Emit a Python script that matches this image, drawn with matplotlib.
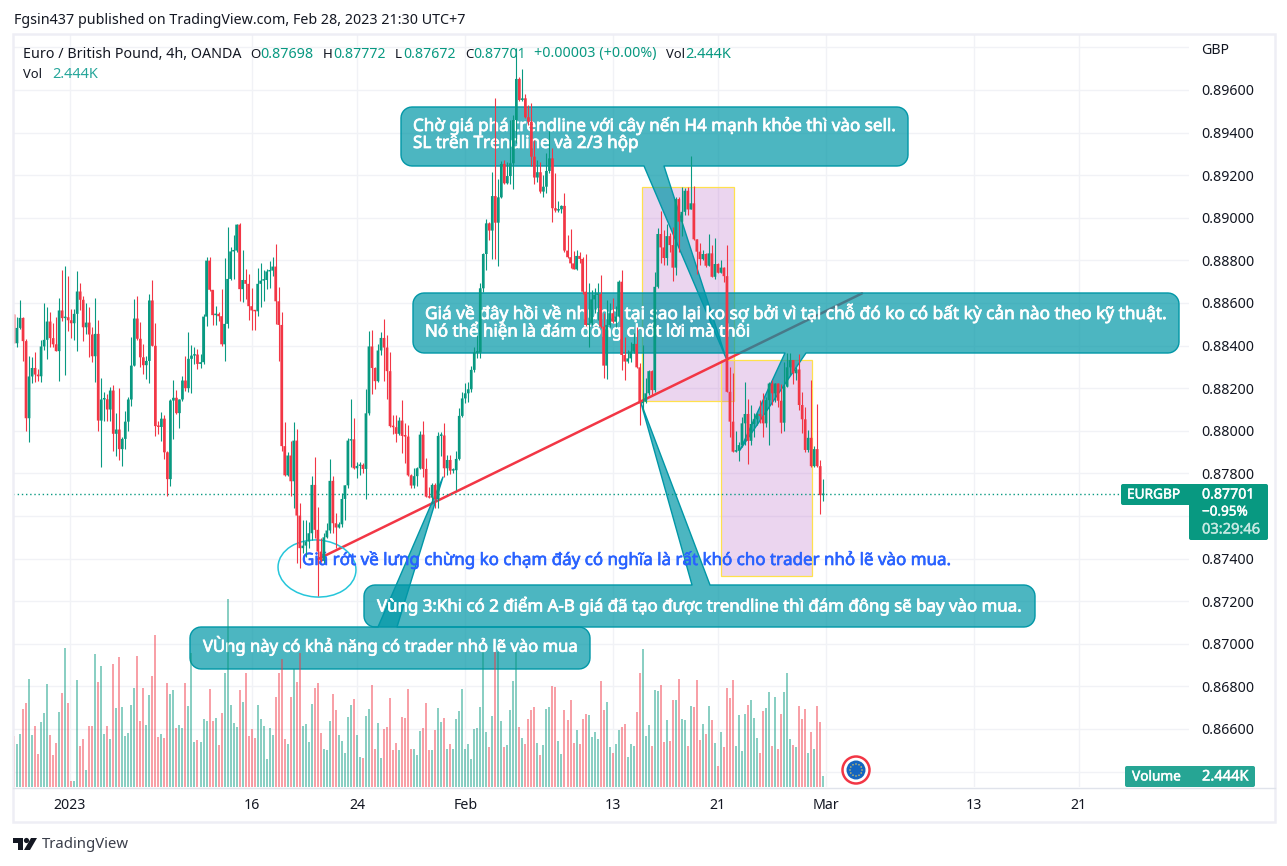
import numpy as np
import matplotlib
matplotlib.use("Agg")
import matplotlib.pyplot as plt
import matplotlib.patheffects as pe
from matplotlib.patches import Polygon, Rectangle, Ellipse, Circle, FancyBboxPatch

plt.rcParams['font.family'] = ['Noto Sans', 'DejaVu Sans']

W, H = 1287, 866
GREEN, RED = '#089981', '#f23645'
GRID = '#f1f2f6'
DARK = '#131722'

# ---------- data: prices in 1/100000 GBP, volume in thousands ----------
first_open = 88546
closes = [
 88411,88483,88530,88421,88059,88255,88295,88264,88256,88396,
 88427,88513,88435,88406,88374,88565,88529,88533,88519,88505,
 88549,88654,88615,88486,88508,88452,88350,88455,88048,88147,
 88148,88100,88189,87986,88006,87914,87962,88043,88147,88306,
 88527,88432,88345,88308,88328,88612,88399,88022,88018,88057,
 87899,87773,88142,88155,88083,88147,88236,88200,88338,88353,
 88358,88314,88322,88536,88799,88662,88543,88549,88538,88406,
 88502,88713,88842,88846,88968,88665,88708,88690,88585,88565,
 88561,88690,88705,88708,88748,88752,88771,88608,88497,87928,
 87791,87884,87763,87954,87602,87449,87461,87480,87519,87746,
 87535,87433,87391,87500,87532,87765,87566,87546,87561,87680,
 87744,87954,87960,87824,87835,87840,87821,88082,88396,88295,
 88233,88377,88436,88391,88280,88022,88017,87986,88048,87976,
 87973,87791,87743,87787,87824,87982,87821,87691,87686,87746,
 87679,87976,87978,87824,87863,87813,87815,87868,88070,88152,
 88176,88195,88286,88367,88368,88669,88830,88974,88940,89102,
 88977,89096,89253,89162,89196,89256,89459,89652,89553,89561,
 89472,89451,89287,89189,89214,89123,89146,89220,89279,89045,
 89034,89040,89056,88846,88815,88786,88758,88821,88807,88653,
 88497,88505,88617,88638,88642,88489,88306,88497,88552,88512,
 88536,88700,88356,88325,88340,88372,88408,88298,88129,88136,
 88176,88280,88191,88676,88924,88861,88811,88914,88872,88766,
 89088,88982,89028,89127,89039,89068,88899,88841,88806,88830,
 88775,88833,88723,88783,88742,88766,88726,88183,88043,87902,
 87906,87933,88035,88079,87953,88032,88054,88079,88069,88035,
 88144,88222,88176,88222,88141,88038,88207,88298,88332,88270,
 88288,88121,88054,87910,87967,87834,87914,87834,87698,87701]
highs = [
 88549,88533,88612,88536,88432,88349,88345,88372,88291,88424,
 88602,88580,88560,88505,88533,88624,88757,88776,88729,88572,
 88572,88748,88694,88635,88599,88583,88486,88624,88518,88248,
 88180,88173,88205,88217,88084,88200,87973,88095,88158,88442,
 88619,88635,88513,88408,88353,88643,88709,88508,88048,88090,
 88072,87904,88147,88240,88192,88147,88259,88349,88466,88405,
 88392,88385,88361,88546,88815,88818,88662,88588,88560,88668,
 88810,88959,88865,88921,88971,88975,88849,88760,88734,88671,
 88568,88763,88790,88755,88760,88799,88815,88877,88677,88557,
 88043,87900,87954,88040,88007,87660,87582,87582,87574,87788,
 87876,87644,87495,87519,87566,87866,87788,87613,87574,87707,
 87746,87965,88150,88059,87855,87855,87848,88197,88468,88471,
 88298,88408,88466,88525,88450,88369,88076,88076,88064,88145,
 88036,88025,87798,87824,87829,87998,88048,87873,87738,87754,
 87754,87996,87996,88035,87887,87887,87824,87907,88106,88184,
 88223,88231,88304,88395,88450,88692,88836,88993,88982,89214,
 89561,89181,89268,89272,89264,89459,89483,89797,89663,89699,
 89581,89530,89538,89365,89272,89264,89201,89303,89409,89326,
 89209,89081,89060,89115,88919,88946,88846,88849,88841,88818,
 88830,88692,88661,88669,88692,88732,88552,88614,88598,88622,
 88586,88708,88755,88442,88379,88419,88458,88489,88317,88403,
 88246,88285,88286,88747,88950,89032,88942,88971,88927,88958,
 89099,89096,89146,89138,89143,89290,89151,88899,88880,88849,
 88833,88924,88872,88903,88786,88802,88770,88872,88298,88270,
 88000,87949,88063,88230,88147,88121,88085,88085,88144,88176,
 88160,88230,88238,88226,88226,88222,88324,88363,88363,88332,
 88301,88360,88183,88113,88003,88238,87928,88126,87863,87772]
lows = [
 88411,88392,88478,88330,88001,87946,88223,88231,88236,88228,
 88377,88336,88392,88392,88374,88233,88514,88264,88468,88435,
 88424,88374,88565,88421,88455,88345,88325,88228,88001,87829,
 88048,88045,88048,87907,87884,87865,87837,87915,88001,88115,
 88302,88424,88299,88267,88241,88223,88396,87975,87986,87954,
 87867,87694,87743,87962,88079,88015,88142,88189,88184,88176,
 88314,88289,88294,88314,88494,88658,88499,88497,88514,88400,
 88327,88483,88710,88713,88838,88611,88604,88618,88518,88471,
 88471,88540,88583,88611,88666,88669,88729,88502,88330,87904,
 87790,87790,87693,87636,87378,87355,87425,87409,87449,87488,
 87495,87225,87386,87378,87495,87519,87519,87449,87542,87550,
 87582,87730,87832,87820,87777,87793,87801,87679,88072,88173,
 88197,88228,88358,88236,88150,88017,87986,87946,87982,87898,
 87851,87788,87732,87732,87743,87820,87782,87688,87683,87660,
 87636,87636,87880,87785,87793,87798,87801,87722,87863,88066,
 88129,88137,88184,88278,88340,88340,88653,88755,88896,88807,
 88807,88775,89091,89159,89159,89159,89134,89350,89550,89550,
 89467,89436,89243,89159,89170,89115,89099,89118,89209,88982,
 89029,89029,89024,88841,88810,88763,88758,88755,88786,88640,
 88492,88392,88497,88552,88520,88481,88246,88242,88489,88505,
 88489,88533,88286,88239,88317,88325,88364,88293,88027,88090,
 88129,88168,88168,88183,88669,88786,88778,88778,88841,88705,
 88731,88841,88914,89013,89013,89039,88895,88736,88778,88802,
 88770,88775,88720,88711,88739,88739,88700,88180,87972,87899,
 87900,87859,87925,87933,87844,87933,87972,88027,88035,87972,
 88019,87933,88121,88136,88113,87988,88000,88207,88262,88222,
 88238,88097,87988,87902,87902,87831,87831,87830,87609,87672]
volumes = [
 11.6,9.8,12.1,17.8,19.2,24.7,11.8,13.9,7.5,14.8,
 16.9,23.5,11.8,7.3,10.0,17.1,21.5,31.8,19.2,1.3,
 1.3,24.4,9.3,10.9,3.8,13.9,13.9,30.4,24.0,27.7,
 12.1,13.9,10.9,28.1,18.0,29.7,18.3,11.6,12.3,18.7,
 22.6,29.9,15.1,22.6,14.1,21.0,25.4,34.8,11.4,12.1,
 11.2,23.8,21.2,22.2,13.4,14.1,13.4,23.8,18.5,30.6,
 10.2,10.7,10.2,15.5,15.1,22.4,15.1,15.7,9.6,16.9,
 26.0,43.0,18.7,14.6,13.7,22.2,19.4,26.1,11.6,13.2,
 11.2,18.7,15.5,13.9,6.3,13.4,11.8,20.6,26.1,29.3,
 10.9,9.8,20.6,27.1,24.0,30.6,13.9,14.4,10.2,18.9,
 22.6,23.8,12.3,8.6,8.4,15.1,21.2,17.6,11.8,10.5,
 7.9,16.0,18.7,20.1,11.8,6.8,6.6,16.2,17.8,23.3,
 8.6,14.6,6.6,13.2,13.7,20.3,8.4,10.0,8.4,16.0,
 15.7,22.4,8.6,8.6,7.3,12.8,13.4,19.2,8.4,8.4,
 13.0,18.0,14.8,15.7,8.6,9.8,8.6,15.5,17.3,22.4,
 8.6,9.8,6.3,13.2,13.4,18.3,30.9,12.5,9.1,16.2,
 30.9,30.9,15.1,9.1,9.6,17.6,24.2,30.9,13.7,11.2,
 9.8,15.5,17.6,18.3,10.0,7.3,9.6,17.8,18.3,23.1,
 22.8,10.5,7.5,17.6,15.3,19.9,10.0,13.0,9.8,15.5,
 16.7,16.4,11.4,12.5,10.9,24.2,17.6,19.4,9.1,7.9,
 9.8,13.0,13.7,14.4,6.8,9.8,9.3,17.1,26.1,31.6,
 11.6,14.1,9.3,22.2,21.9,23.3,10.2,15.3,10.5,19.9,
 19.9,24.7,15.5,15.3,9.3,18.5,18.3,24.4,10.7,14.5,
 12.1,18.5,15.3,10.0,4.7,12.5,9.1,22.6,20.3,24.4,
 9.3,16.4,8.2,16.7,18.7,19.9,15.7,11.2,7.9,17.3,
 18.0,21.7,9.3,20.6,8.6,16.7,21.7,26.1,10.9,9.6,
 9.1,18.5,15.5,17.8,7.9,12.5,8.6,18.5,14.8,2.444]

price_ticks = [0.864,0.866,0.868,0.870,0.872,0.874,0.876,0.878,0.880,0.882,
               0.884,0.886,0.888,0.890,0.892,0.894,0.896,0.898]
hidden_price_labels = [0.864, 0.876, 0.898]
time_pos = [18.6, 79, 114, 150, 199, 234, 270, 319, 354]
time_labels = ['2023', '16', '24', 'Feb', '13', '21', 'Mar', '13', '21']
last_price = 0.87701

# drawings anchored to (bar index, price)
trend_k = [101.1, 281.9]
trend_p = [0.87398, 0.88645]
box1 = (208.8, 239.4, 0.88140, 0.89145)
box2 = (235.0, 265.3, 0.87318, 0.88332)

closes, highs, lows = [np.array(a) / 1e5 for a in (closes, highs, lows)]
opens = np.r_[first_open / 1e5, closes[:-1]]
volumes = np.array(volumes)
k = np.arange(len(closes))

# ---------- layout ----------
fig = plt.figure(figsize=(W / 100, H / 100), dpi=100, facecolor='white')
PANE = (13, 1189, 35, 787)     # left, right, top, bottom in pixels
rect = [PANE[0] / W, 1 - PANE[3] / H, (PANE[1] - PANE[0]) / W, (PANE[3] - PANE[2]) / H]
XLIM = (-0.33, 390.6)
YLIM = (0.863277, 0.898582)

def pane(z, transparent=True):
    a = fig.add_axes(rect, zorder=z)
    a.set_xlim(*XLIM); a.set_ylim(*YLIM)
    for s in a.spines.values():
        s.set_visible(False)
    if transparent:
        a.patch.set_alpha(0)
    return a

def overlay(z):
    a = fig.add_axes([0, 0, 1, 1], zorder=z)
    a.set_xlim(0, W); a.set_ylim(H, 0); a.axis('off')
    a.patch.set_alpha(0)
    return a

AXF = 10.2
# ---------- background: grid, boxes, trendline, axis labels ----------
ax = pane(1, transparent=False)
ax.set_yticks(price_ticks)
ax.set_yticklabels(['' if p in hidden_price_labels else f'{p:.5f}' for p in price_ticks],
                   fontsize=AXF, color=DARK)
ax.yaxis.tick_right()
ax.tick_params(axis='y', length=0, pad=9)
ax.set_xticks(time_pos)
ax.set_xticklabels(time_labels, fontsize=AXF, color=DARK)
ax.get_xticklabels()[0].set_fontweight('bold')
ax.tick_params(axis='x', length=0, pad=8)
ax.grid(True, color=GRID, lw=1.0)
ax.set_axisbelow(True)
for b in (box1, box2):
    ax.add_patch(Rectangle((b[0], b[2]), b[1] - b[0], b[3] - b[2], snap=True,
                           fc=(0.729, 0.408, 0.784, 0.28), ec='#ffe14d', lw=0.9, zorder=2))
ax.plot(trend_k, trend_p, color=RED, lw=1.8, zorder=3, solid_capstyle='round')

# ---------- drawings: callouts ----------
dr = overlay(2)
FILL = (0, 0.592, 0.655, 0.70)
EDGE = '#0097a7'

def rounded_callout(x0, y0, x1, y1, side, a, b, tip, r=11):
    t = np.linspace(0, np.pi / 2, 8)
    pts = []
    if side == 'top':
        pts += [(a, y0), tip, (b, y0)]
    pts += [(x1 - r + r * np.sin(q), y0 + r - r * np.cos(q)) for q in t]
    pts += [(x1 - r + r * np.cos(q), y1 - r + r * np.sin(q)) for q in t]
    if side == 'bottom':
        pts += [(b, y1), tip, (a, y1)]
    pts += [(x0 + r - r * np.sin(q), y1 - r + r * np.cos(q)) for q in t]
    pts += [(x0 + r - r * np.cos(q), y0 + r - r * np.sin(q)) for q in t]
    dr.add_patch(Polygon(pts, closed=True, fc=FILL, ec=EDGE, lw=1.0, joinstyle='round'))

rounded_callout(401, 107, 908, 166, 'bottom', 644, 664, (726, 358))
rounded_callout(413, 293, 1179, 353, 'bottom', 785, 806, (740, 450))
rounded_callout(190, 627, 590, 669, 'top', 378, 397, (443, 477))
rounded_callout(364, 585, 1035, 627, 'top', 692, 710, (641, 403))

def fit_text(a, x, y, s, width=None, size=10, heavy=None, **kw):
    kw.setdefault('va', 'center')
    t = a.text(x, y, s, fontsize=size, **kw)
    if width:
        ext = t.get_window_extent(fig.canvas.get_renderer())
        t.set_fontsize(size * width / ext.width)
    if heavy:
        t.set_path_effects([pe.withStroke(linewidth=heavy, foreground=kw.get('color', DARK))])
    return t

CW = dict(color='white', heavy=0.55)
fit_text(dr, 413, 126, 'Chờ giá phá trendline với cây nến H4 mạnh khỏe thì vào sell.', 482, **CW)
fit_text(dr, 413, 144, 'SL trên Trendline và 2/3 hộp', 225, **CW)
fit_text(dr, 425, 313, 'Giá về đây hồi về nhưng tại sao lại ko sợ bởi vì tại chỗ đó ko có bất kỳ cản nào theo kỹ thuật.', 740, **CW)
fit_text(dr, 425, 331, 'Nó thể hiện là đám đông chốt lời mà thôi', 325, **CW)
fit_text(dr, 377, 606, 'Vùng 3:Khi có 2 điểm A-B giá đã tạo được trendline thì đám đông sẽ bay vào mua.', 645, **CW)
fit_text(dr, 203, 646, 'VÙng này có khả năng có trader nhỏ lẽ vào mua', 374, **CW)
fit_text(dr, 302, 560, 'Giá rớt về lưng chừng ko chạm đáy có nghĩa là rất khó cho trader nhỏ lẽ vào mua.',
         648, color='#2962ff', heavy=0.45)
dr.add_patch(Ellipse((317, 568.5), 78, 57, angle=4, fc='none', ec='#26c6da', lw=1.1))

# ---------- candles and volume on top of drawings ----------
cx = pane(3)
cx.set_xticks([]); cx.set_yticks([])
up = closes >= opens
colors = np.where(up, GREEN, RED)
min_h = 1.5 * (YLIM[1] - YLIM[0]) / (PANE[3] - PANE[2])
body_h = np.maximum(np.abs(closes - opens), min_h)
cx.vlines(k, lows, highs, colors=colors, lw=0.8, zorder=2)
bars = cx.bar(k, body_h, bottom=np.minimum(opens, closes), width=0.9, color=colors, lw=0, zorder=3)
for b in bars:
    b.set_snap(False)
cx.axhline(last_price, color=GREEN, lw=1.0, ls=(0, (1, 2)), zorder=1)

vx = pane(3.5)
vx.set_xticks([]); vx.set_yticks([])
vx.set_ylim(0, (PANE[3] - PANE[2]) * 0.229)
vx.vlines(k, 0, volumes, colors=colors, lw=1.44, alpha=0.47)

# ---------- labels, frame ----------
tp = overlay(4)
FRAME = '#eeeef5'
tp.add_patch(Rectangle((13, 34), 1262, 788, fc='none', ec=FRAME, lw=1.8))
tp.plot([13, 1275], [787.5, 787.5], color='#e0e3eb', lw=1.0)

fit_text(tp, 13.5, 20, 'Fgsin437 published on TradingView.com, Feb 28, 2023 21:30 UTC+7', 450, color=DARK)
LEG = '#26a69a'
fit_text(tp, 23, 54, 'Euro / British Pound, 4h, OANDA', 218, color=DARK)
for x, s in [(250, 'O'), (323, 'H'), (395, 'L'), (465, 'C')]:
    fit_text(tp, x, 54, s, size=9.6, color=DARK)
for x, w, s, c in [(260, 53, '0.87698', GREEN), (333, 52, '0.87772', GREEN),
                   (403, 52, '0.87672', GREEN), (473, 52, '0.87701', GREEN),
                   (534, 121, '+0.00003 (+0.00%)', GREEN), (666, 19, 'Vol', DARK), (685, 46, '2.444K', GREEN)]:
    fit_text(tp, x, 54, s, w, color=c)
fit_text(tp, 23, 75, 'Vol', 19, color=DARK)
fit_text(tp, 52, 75, '2.444K', 46, color=LEG)
fit_text(tp, 1201, 50, 'GBP', size=AXF, color=DARK)

# last-price tag
TAG = GREEN
def tag(x0, y0, x1, y1, fc):
    tp.add_patch(FancyBboxPatch((x0 + 2, y0 + 2), x1 - x0 - 4, y1 - y0 - 4,
                                boxstyle='round,pad=2,rounding_size=2', fc=fc, lw=0))
tag(1121, 484, 1195, 505, TAG)
tag(1189, 484, 1268, 540, TAG)
TW = dict(color='white', heavy=0.35)
fit_text(tp, 1127, 495, 'EURGBP', 53, size=AXF, **TW)
fit_text(tp, 1202, 495, '0.87701', 53, size=AXF, **TW)
fit_text(tp, 1202, 512, '−0.95%', 46, size=AXF, **TW)
fit_text(tp, 1202, 530, '03:29:46', 58, size=AXF, color='#c6e9e2', heavy=0.3)

# volume tag
tag(1125, 766, 1255, 787, '#26a594')
fit_text(tp, 1132, 777, 'Volume', 49, size=AXF, **TW)
fit_text(tp, 1202, 777, '2.444K', 46, size=AXF, **TW)

# EU currency badge
tp.add_patch(Circle((856, 770), 13.5, fc='white', ec=RED, lw=1.8))
tp.add_patch(Circle((856, 770), 9.5, fc='#1565c0', lw=0))
for a in np.linspace(0, 2 * np.pi, 12, endpoint=False):
    tp.add_patch(Circle((856 + 6 * np.cos(a), 770 + 6 * np.sin(a)), 0.7, fc='#ffd54f', lw=0))

# TradingView logo
tp.add_patch(Polygon([(13, 838), (23, 838), (23, 850), (17.5, 850), (17.5, 843), (13, 843)], fc=DARK, lw=0))
tp.add_patch(Circle((26.5, 840.5), 2.6, fc=DARK, lw=0))
tp.add_patch(Polygon([(31, 838), (37, 838), (30, 850), (24, 850)], fc=DARK, lw=0))
fit_text(tp, 42, 845, 'TradingView', 87, color='#3a3e4a')

fig.savefig('out.png', dpi=100, facecolor='white')
